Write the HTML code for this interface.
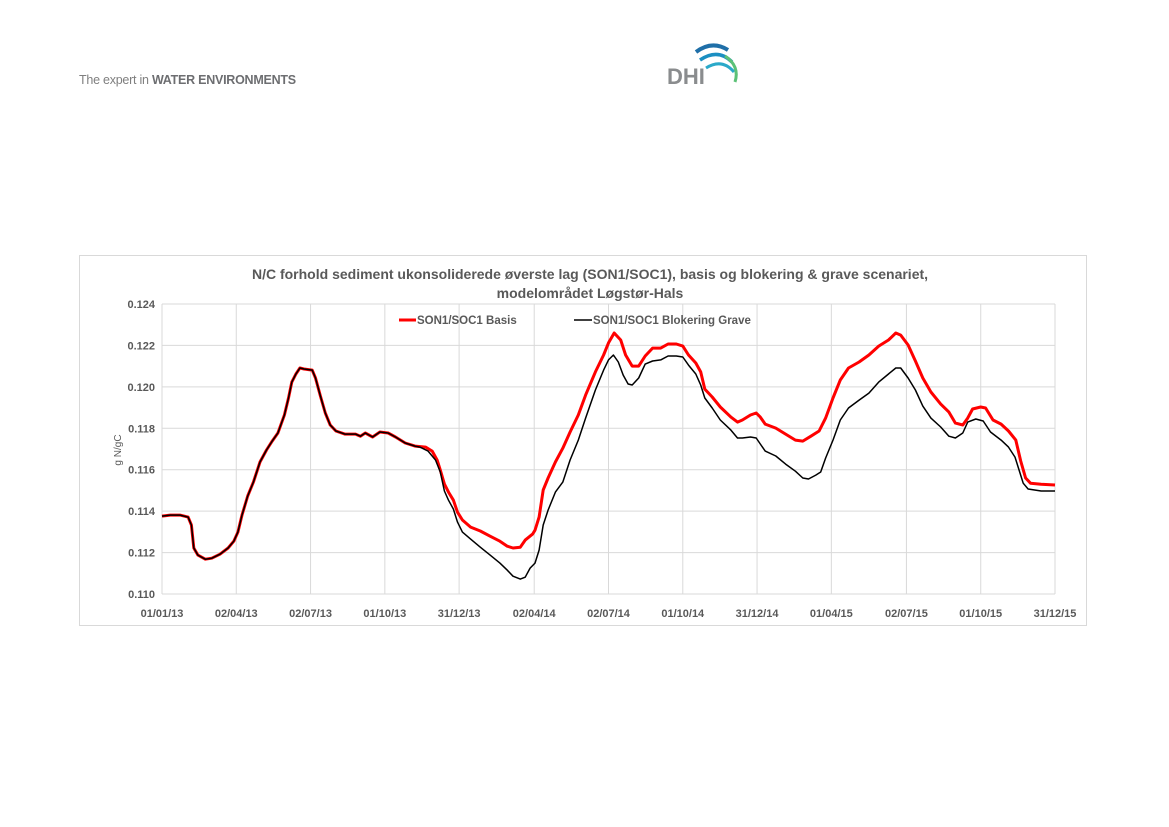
<!DOCTYPE html>
<html><head><meta charset="utf-8"><style>
body{margin:0;background:#fff;}
svg{display:block;font-family:"Liberation Sans",Arial,sans-serif;}
</style></head><body>
<svg id="page" width="1169" height="827" viewBox="0 0 1169 827">
<g>
<text x="79" y="84" font-size="12.5" fill="#7f7f7f" letter-spacing="-0.25">The expert in <tspan font-weight="bold" fill="#6d6e71">WATER ENVIRONMENTS</tspan></text>
</g>
<g>
<path d="M696 52 Q712 40 728 50" stroke="#1f6fa8" stroke-width="4" fill="none"/>
<path d="M700 60 Q718 48 732 62" stroke="#1b8fc2" stroke-width="3.5" fill="none"/>
<path d="M706 68 Q722 58 734 72" stroke="#2aa9c9" stroke-width="3" fill="none"/>
<path d="M725 56 Q740 66 735 82" stroke="#5cc177" stroke-width="3" fill="none"/>
<text x="667" y="84" font-size="22" font-weight="bold" fill="#8a8c8e">DHI</text>
</g>
<rect x="79.5" y="255.5" width="1007" height="370" fill="#fff" stroke="#d9d9d9"/>
<text x="590" y="279" text-anchor="middle" font-size="14" font-weight="bold" fill="#595959">N/C forhold sediment ukonsoliderede øverste lag (SON1/SOC1), basis og blokering &amp; grave scenariet,</text>
<text x="590" y="298" text-anchor="middle" font-size="14" font-weight="bold" fill="#595959">modelområdet Løgstør-Hals</text>
<text transform="translate(121,450) rotate(-90)" text-anchor="middle" font-size="10" fill="#595959">g N/gC</text>
<g id="grid"></g>
<g id="series"></g>
<g>
<line x1="399" y1="320" x2="416" y2="320" stroke="#ff0000" stroke-width="3"/>
<text x="417" y="324" font-size="11.5" font-weight="bold" fill="#595959">SON1/SOC1 Basis</text>
<line x1="574" y1="320" x2="592" y2="320" stroke="#000" stroke-width="1.5"/>
<text x="593" y="324" font-size="11.5" font-weight="bold" fill="#595959">SON1/SOC1 Blokering Grave</text>
</g>
</svg>
<script>
const yTicks=[0.110,0.112,0.114,0.116,0.118,0.120,0.122,0.124];
const xTickDays=[0,91,182,273,364,456,547,638,729,820,912,1003,1094];
const xTickLabels=["01/01/13","02/04/13","02/07/13","01/10/13","31/12/13","02/04/14","02/07/14","01/10/14","31/12/14","01/04/15","02/07/15","01/10/15","31/12/15"];
const redDays=[0,10,22,32,36,39,44,53,61,71,81,88,93,98,105,112,120,128,135,142,150,155,159,164,169,174,184,188,194,200,206,213,224,237,243,249,258,267,277,286,298,310,323,331,337,341,346,351,357,362,368,378,390,402,414,423,430,439,445,454,457,462,467,473,482,491,500,510,519,531,541,547,554,562,568,576,584,592,601,611,620,630,638,645,654,660,665,674,684,697,705,711,721,728,733,739,752,764,776,785,795,805,813,822,831,841,854,866,878,890,899,905,914,923,932,942,954,964,972,981,987,993,1003,1009,1018,1028,1037,1046,1052,1058,1064,1077,1094];
const redVals=[0.11376,0.11381,0.11381,0.11371,0.11333,0.11222,0.11188,0.11168,0.11173,0.11192,0.11222,0.11255,0.11299,0.11381,0.11473,0.1154,0.11637,0.11695,0.11738,0.11777,0.11864,0.11946,0.12023,0.12062,0.12091,0.12086,0.12081,0.12043,0.11956,0.11874,0.11816,0.11787,0.11772,0.11772,0.11762,0.11777,0.11758,0.11782,0.11777,0.11758,0.11729,0.11714,0.11709,0.1169,0.11647,0.11598,0.11531,0.11492,0.11453,0.11395,0.11357,0.11323,0.11304,0.11279,0.11255,0.11231,0.11222,0.11226,0.1126,0.11289,0.11308,0.11371,0.11502,0.1156,0.11637,0.11704,0.11782,0.11864,0.1196,0.12072,0.12154,0.12212,0.1226,0.12226,0.12154,0.121,0.121,0.12149,0.12187,0.12187,0.12207,0.12207,0.12197,0.12154,0.12115,0.12072,0.11989,0.11951,0.11903,0.11854,0.1183,0.1184,0.11864,0.11874,0.11854,0.1182,0.11801,0.11772,0.11743,0.11738,0.11762,0.11787,0.11849,0.11946,0.12033,0.12091,0.1212,0.12154,0.12197,0.12226,0.1226,0.1225,0.12202,0.12125,0.12043,0.11975,0.11917,0.11878,0.11825,0.11816,0.11849,0.11893,0.11903,0.11898,0.1184,0.1182,0.11787,0.11743,0.11642,0.1156,0.11535,0.1153,0.11526];
const blackDays=[0,10,22,32,36,39,44,53,61,71,81,88,93,98,105,112,120,128,135,142,150,155,159,164,169,174,184,188,194,200,206,213,224,237,243,249,258,267,277,286,298,310,316,326,335,341,346,351,357,362,368,378,390,402,414,423,430,439,445,451,457,462,467,473,482,491,500,510,519,531,541,547,553,559,565,571,576,584,592,601,611,620,630,638,645,654,660,665,674,684,697,705,711,721,728,733,739,752,764,776,785,792,801,807,813,822,831,841,854,866,878,890,899,905,914,923,932,942,954,964,972,981,987,997,1006,1015,1028,1037,1045,1050,1055,1061,1077,1094];
const blackVals=[0.11376,0.11381,0.11381,0.11371,0.11333,0.11222,0.11188,0.11168,0.11173,0.11192,0.11222,0.11255,0.11299,0.11381,0.11473,0.1154,0.11637,0.11695,0.11738,0.11777,0.11864,0.11946,0.12023,0.12062,0.12091,0.12086,0.12081,0.12043,0.11956,0.11874,0.11816,0.11787,0.11772,0.11772,0.11762,0.11777,0.11758,0.11782,0.11777,0.11758,0.11729,0.11714,0.11709,0.1169,0.11647,0.11589,0.11497,0.11453,0.1141,0.11347,0.11299,0.11265,0.11226,0.11188,0.11149,0.11115,0.11086,0.11072,0.11081,0.11125,0.11149,0.11212,0.11333,0.11405,0.11492,0.1154,0.11647,0.11743,0.11849,0.11985,0.12081,0.1213,0.12154,0.1212,0.12057,0.12014,0.12009,0.12043,0.1211,0.12125,0.1213,0.12149,0.12149,0.12144,0.12105,0.12062,0.12009,0.11946,0.11898,0.1184,0.11791,0.11753,0.11753,0.11758,0.11753,0.11724,0.1169,0.11666,0.11627,0.11593,0.1156,0.11555,0.11574,0.11589,0.11656,0.11743,0.1184,0.11898,0.11936,0.1197,0.12023,0.12062,0.12091,0.12091,0.12043,0.11985,0.11907,0.11849,0.11806,0.11762,0.11753,0.11777,0.1183,0.11845,0.11835,0.11782,0.11743,0.11709,0.11661,0.11598,0.11535,0.11507,0.11497,0.11497];

const NS="http://www.w3.org/2000/svg";
const X0=162,X1=1055,Y0=594,Y1=304,DMAX=1094,VMIN=0.110,VMAX=0.124;
function xs(d){return X0+(d/DMAX)*(X1-X0);}
function ys(v){return Y0-(v-VMIN)/(VMAX-VMIN)*(Y0-Y1);}
function mk(tag,attrs,parent){const e=document.createElementNS(NS,tag);for(const k in attrs)e.setAttribute(k,attrs[k]);parent.appendChild(e);return e;}
const grid=document.getElementById('grid');
yTicks.forEach((v,i)=>{
  const l=mk('line',{x1:X0,x2:X1,y1:ys(v),y2:ys(v),stroke:'#d9d9d9','stroke-width':1},grid);
  
  
  const t=mk('text',{x:155,y:ys(v)+4,'text-anchor':'end','font-size':11,'font-weight':'bold',fill:'#595959'},grid);
  t.textContent=v.toFixed(3);
  
  
});
xTickDays.forEach((d,i)=>{
  const l=mk('line',{x1:xs(d),x2:xs(d),y1:Y1,y2:Y0,stroke:'#d9d9d9','stroke-width':1},grid);
  
  
  const t=mk('text',{x:xs(d),y:617,'text-anchor':'middle','font-size':11,'font-weight':'bold',fill:'#595959'},grid);
  t.textContent=xTickLabels[i];
  
  
});
const ser=document.getElementById('series');
function path(ds,vs){return ds.map((d,i)=>(i?'L':'M')+xs(d).toFixed(1)+' '+ys(vs[i]).toFixed(1)).join(' ');}
const pr=mk('path',{d:path(redDays,redVals),fill:'none',stroke:'#ff0000','stroke-width':3,'stroke-linejoin':'round'},ser);


const pb=mk('path',{d:path(blackDays,blackVals),fill:'none',stroke:'#000','stroke-width':1.5,'stroke-linejoin':'round'},ser);


</script>
</body></html>
